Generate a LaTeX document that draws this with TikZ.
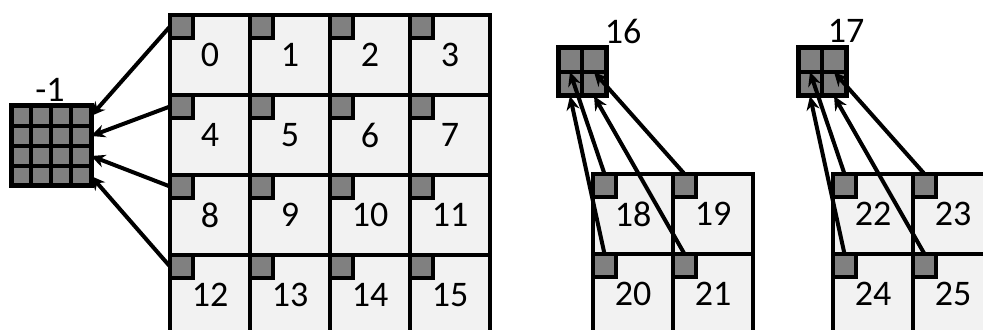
\documentclass[tikz,border=0pt]{standalone}
\usepackage{fontspec}
\setmainfont{Carlito}
\usetikzlibrary{fit,arrows.meta}

\begin{document}
\begin{tikzpicture}[
    x=0.5pt, y=-0.5pt,
    font=\fontsize{18}{20}\selectfont,
    cell/.style={draw, line width=2pt, fill=black!5, minimum size=40pt, inner sep=0pt, outer sep=0pt},
    corner/.style={draw, line width=2pt, fill=black!50, minimum size=11.5pt, inner sep=0pt, outer sep=0pt, anchor=north west},
    sub/.style={draw, line width=2pt, fill=black!50, inner sep=0pt, outer sep=0pt},
    outer/.style={draw, line width=2.5pt, inner sep=0pt, outer sep=0pt},
    lbl/.style={inner sep=0pt},
    link/.style={-{Stealth[length=7pt, width=6.5pt]}, line width=2pt}]

    \useasboundingbox (0,0) rectangle (983,330);
    \clip (0,0) rectangle (983,330);

    % velka mrizka 0..15
    \foreach \r in {0,...,3}
      \foreach \c in {0,...,3} {
        \pgfmathtruncatemacro{\n}{4*\r+\c}
        \node[cell] (c\n) at ({210+80*\c},{55+80*\r}) {\n};
        \node[corner] (k\n) at (c\n.north west) {};
      }

    % nadrazeny blok -1
    \foreach \r in {0,...,3}
      \foreach \c in {0,...,3}
        \node[sub, minimum size=10pt] (m\r\c) at ({21+20*\c},{116+20*\r}) {};
    \node[outer, fit=(m00)(m33)] (pm1) {};
    \node[lbl] (tm1) at (50,90) {-1};

    % bloky 18..21 a 22..25
    \foreach \r in {0,1}
      \foreach \c in {0,1} {
        \pgfmathtruncatemacro{\n}{18+2*\r+\c}
        \node[cell] (c\n) at ({633+80*\c},{214+80*\r}) {\n};
        \node[corner] (k\n) at (c\n.north west) {};
        \pgfmathtruncatemacro{\m}{22+2*\r+\c}
        \node[cell] (c\m) at ({873+80*\c},{214+80*\r}) {\m};
        \node[corner] (k\m) at (c\m.north west) {};
      }

    % nadrazene bloky 16 a 17
    \foreach \r in {0,1}
      \foreach \c in {0,1} {
        \node[sub, minimum size=12pt] (a\r\c) at ({570+24*\c},{60+24*\r}) {};
        \node[sub, minimum size=12pt] (b\r\c) at ({810+24*\c},{60+24*\r}) {};
      }
    \node[outer, fit=(a00)(a11)] (p16) {};
    \node[outer, fit=(b00)(b11)] (p17) {};
    \node[lbl] (t16) at (623,31) {16};
    \node[lbl] (t17) at (846,31) {17};

    % sipky k nadrazenym blokum
    \foreach \r in {0,...,3} {
      \pgfmathtruncatemacro{\n}{4*\r}
      \draw[link] (k\n.west) -- (m\r3.east);
    }
    \draw[link] (k18.north) -- (a10.north);
    \draw[link] (k19.north) -- (a11.north);
    \draw[link] (k20.north) -- (a10.south);
    \draw[link] (k21.north) -- (a11.south);
    \draw[link] (k22.north) -- (b10.north);
    \draw[link] (k23.north) -- (b11.north);
    \draw[link] (k24.north) -- (b10.south);
    \draw[link] (k25.north) -- (b11.south);
\end{tikzpicture}
\end{document}
